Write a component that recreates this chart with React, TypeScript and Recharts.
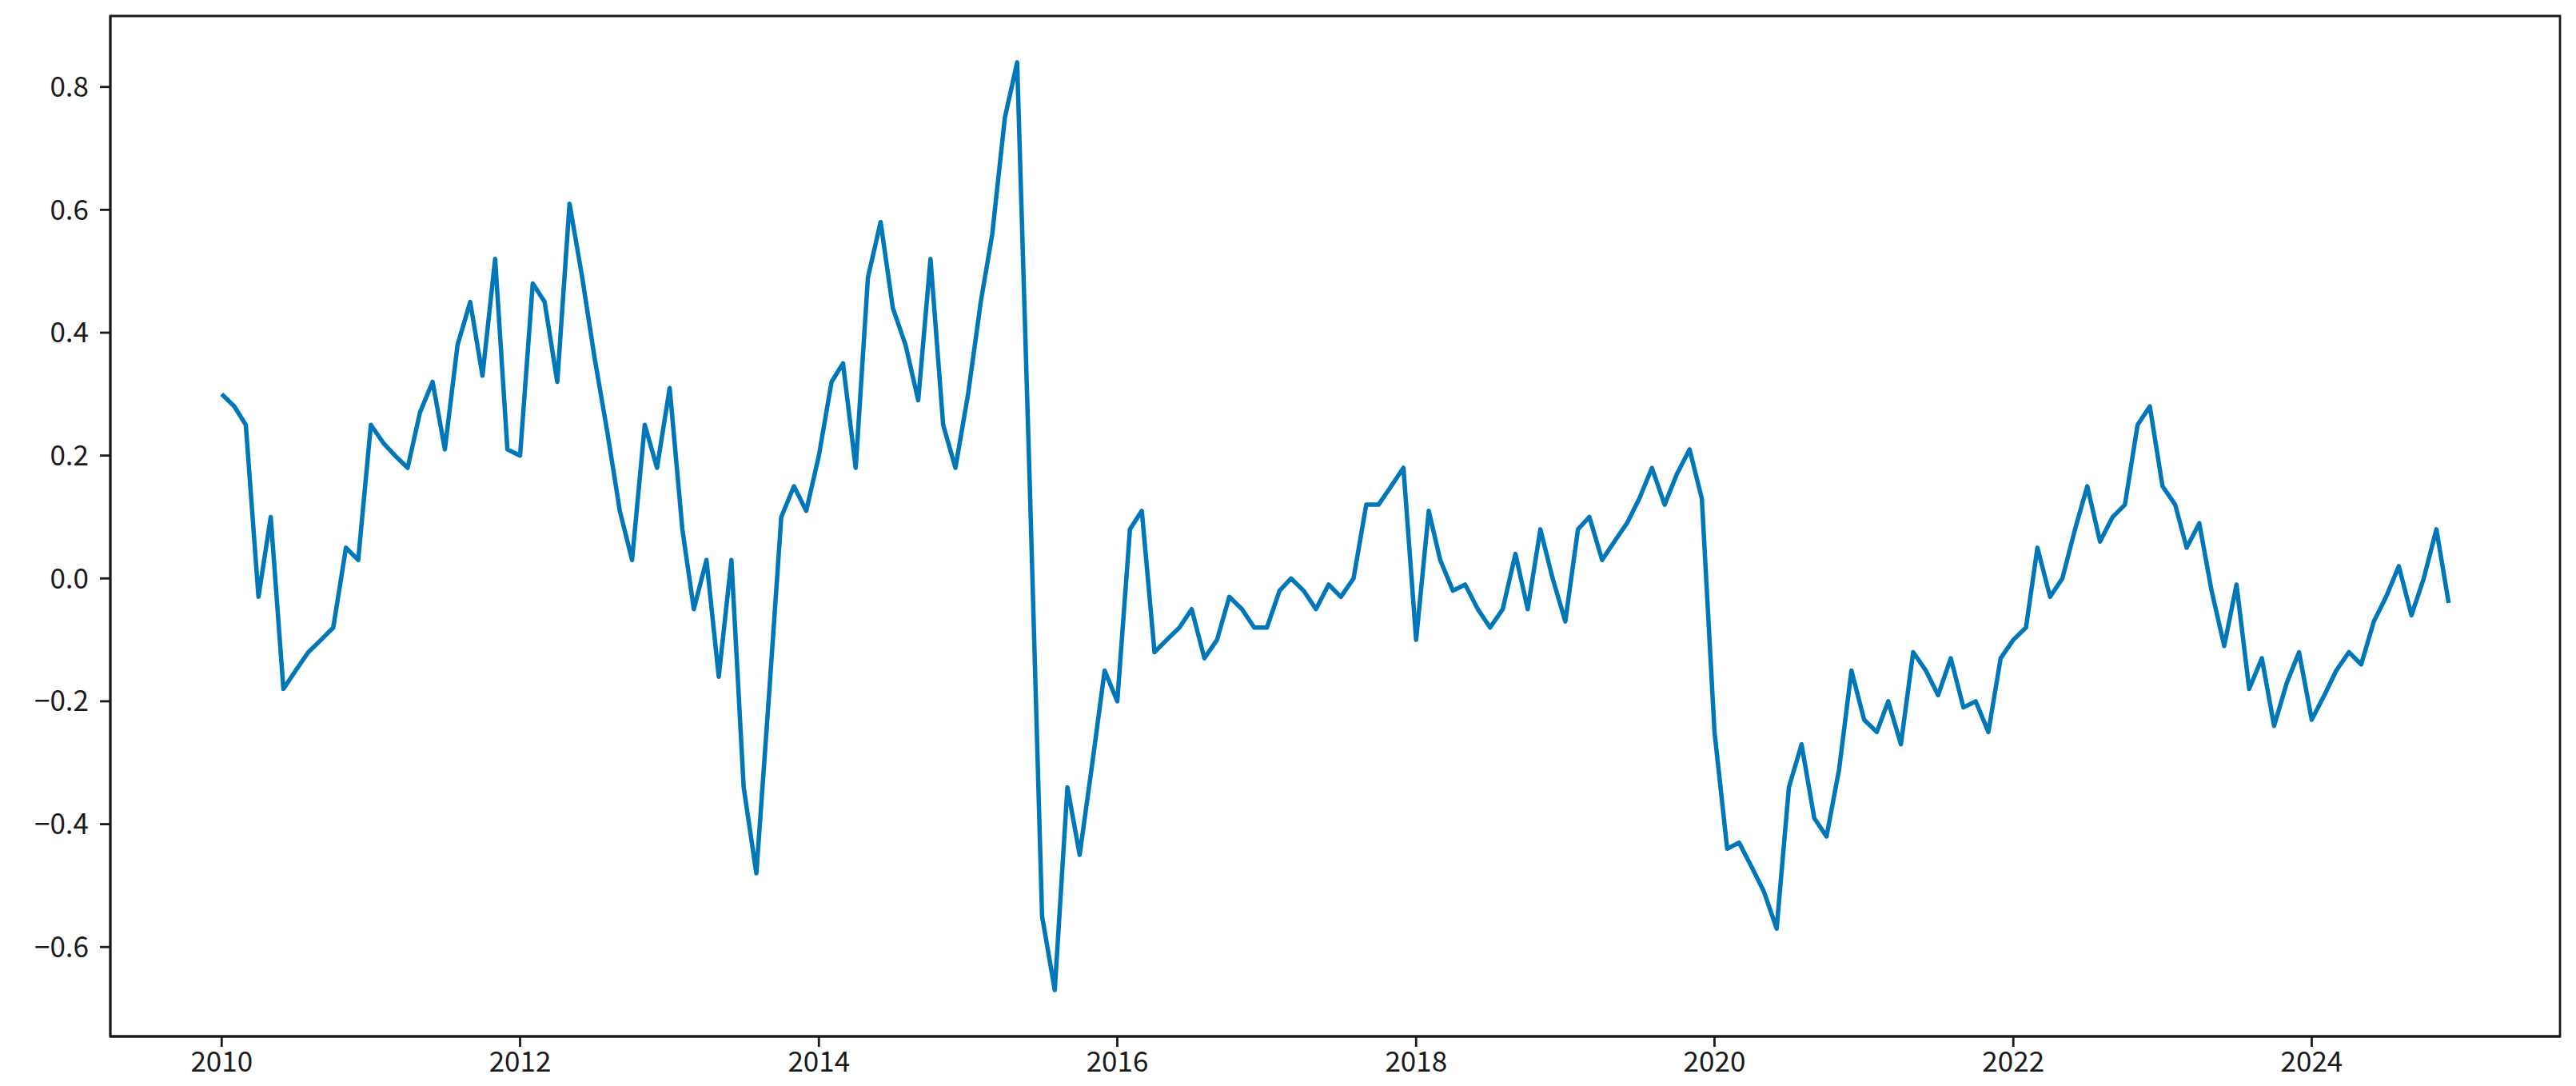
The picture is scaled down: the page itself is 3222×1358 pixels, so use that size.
import React from 'react';
import { LineChart, Line, XAxis, YAxis, ReferenceArea } from 'recharts';

const YEARS = [2010, 2011, 2012, 2013, 2014, 2015, 2016, 2017, 2018, 2019, 2020, 2021, 2022, 2023, 2024];
const MONTH_INDEX = [0, 1, 2, 3, 4, 5, 6, 7, 8, 9, 10, 11];

const V2010 = [0.30, 0.28, 0.25, -0.03, 0.10, -0.18, -0.15, -0.12, -0.10, -0.08, 0.05, 0.03];
const V2011 = [0.25, 0.22, 0.20, 0.18, 0.27, 0.32, 0.21, 0.38, 0.45, 0.33, 0.52, 0.21];
const V2012 = [0.20, 0.48, 0.45, 0.32, 0.61, 0.49, 0.36, 0.24, 0.11, 0.03, 0.25, 0.18];
const V2013 = [0.31, 0.08, -0.05, 0.03, -0.16, 0.03, -0.34, -0.48, -0.19, 0.10, 0.15, 0.11];
const V2014 = [0.20, 0.32, 0.35, 0.18, 0.49, 0.58, 0.44, 0.38, 0.29, 0.52, 0.25, 0.18];
const V2015 = [0.30, 0.45, 0.56, 0.75, 0.84, 0.15, -0.55, -0.67, -0.34, -0.45, -0.30, -0.15];
const V2016 = [-0.20, 0.08, 0.11, -0.12, -0.10, -0.08, -0.05, -0.13, -0.10, -0.03, -0.05, -0.08];
const V2017 = [-0.08, -0.02, 0.00, -0.02, -0.05, -0.01, -0.03, 0.00, 0.12, 0.12, 0.15, 0.18];
const V2018 = [-0.10, 0.11, 0.03, -0.02, -0.01, -0.05, -0.08, -0.05, 0.04, -0.05, 0.08, 0.00];
const V2019 = [-0.07, 0.08, 0.10, 0.03, 0.06, 0.09, 0.13, 0.18, 0.12, 0.17, 0.21, 0.13];
const V2020 = [-0.25, -0.44, -0.43, -0.47, -0.51, -0.57, -0.34, -0.27, -0.39, -0.42, -0.31, -0.15];
const V2021 = [-0.23, -0.25, -0.20, -0.27, -0.12, -0.15, -0.19, -0.13, -0.21, -0.20, -0.25, -0.13];
const V2022 = [-0.10, -0.08, 0.05, -0.03, 0.00, 0.08, 0.15, 0.06, 0.10, 0.12, 0.25, 0.28];
const V2023 = [0.15, 0.12, 0.05, 0.09, -0.02, -0.11, -0.01, -0.18, -0.13, -0.24, -0.17, -0.12];
const V2024 = [-0.23, -0.19, -0.15, -0.12, -0.14, -0.07, -0.03, 0.02, -0.06, 0.00, 0.08, -0.04];

const VALUES_BY_YEAR = [V2010, V2011, V2012, V2013, V2014, V2015, V2016, V2017, V2018, V2019, V2020, V2021, V2022, V2023, V2024];

const X_TICK_YEARS = [2010, 2012, 2014, 2016, 2018, 2020, 2022, 2024];
const Y_TICKS = [-0.6, -0.4, -0.2, 0.0, 0.2, 0.4, 0.6, 0.8];

const data = YEARS.flatMap((y, yi) =>
  MONTH_INDEX.map((m) => ({ t: Date.UTC(y, m, 1), value: VALUES_BY_YEAR[yi][m] }))
);

const tMin = data[0].t;
const tMax = data[data.length - 1].t;
const tPad = (tMax - tMin) * 0.05;
const X_DOMAIN: [number, number] = [tMin - tPad, tMax + tPad];

const allVals = data.map((d) => d.value);
const vMin = Math.min(...allVals);
const vMax = Math.max(...allVals);
const vPad = (vMax - vMin) * 0.05;
const Y_DOMAIN: [number, number] = [vMin - vPad, vMax + vPad];

const X_TICKS = X_TICK_YEARS.map((y) => Date.UTC(y, 0, 1));

const FONT = '"Noto Sans CJK SC", "Noto Sans", sans-serif';
const AXIS_COLOR = '#1a1a1a';
const LINE_COLOR = '#0077b8';

const tickStyle = { fontSize: 35, fill: '#1a1a1a', fontFamily: FONT };

const fmtY = (v: number) => {
  const s = Math.abs(v) < 1e-9 ? '0.0' : v.toFixed(1);
  return s.replace('-', '\u2212');
};
const fmtX = (t: number) => String(new Date(t).getUTCFullYear());

export default function App() {
  return (
    <div style={{ position: 'absolute', left: 0, top: 0, width: 3222, height: 1358, background: '#fff' }}>
      <LineChart
        width={3222}
        height={1358}
        data={data}
        margin={{ top: 20, right: 20, bottom: 0, left: 0 }}
      >
        <XAxis
          dataKey="t"
          type="number"
          domain={X_DOMAIN}
          ticks={X_TICKS}
          tickFormatter={fmtX}
          allowDataOverflow
          height={62}
          tick={tickStyle}
          tickSize={13}
          tickMargin={6}
          axisLine={{ stroke: AXIS_COLOR, strokeWidth: 2.8 }}
          tickLine={{ stroke: AXIS_COLOR, strokeWidth: 2.8 }}
          interval={0}
        />
        <YAxis
          type="number"
          domain={Y_DOMAIN}
          ticks={Y_TICKS}
          tickFormatter={fmtY}
          allowDataOverflow
          width={138}
          tick={tickStyle}
          tickSize={13}
          tickMargin={14}
          axisLine={{ stroke: AXIS_COLOR, strokeWidth: 2.8 }}
          tickLine={{ stroke: AXIS_COLOR, strokeWidth: 2.8 }}
          interval={0}
        />
        <ReferenceArea
          x1={X_DOMAIN[0]}
          x2={X_DOMAIN[1]}
          y1={Y_DOMAIN[0]}
          y2={Y_DOMAIN[1]}
          fill="none"
          fillOpacity={0}
          stroke={AXIS_COLOR}
          strokeWidth={2.8}
          ifOverflow="visible"
        />
        <Line
          type="linear"
          dataKey="value"
          stroke={LINE_COLOR}
          strokeWidth={5.5}
          strokeLinejoin="round"
          dot={false}
          activeDot={false}
          isAnimationActive={false}
        />
      </LineChart>
    </div>
  );
}
